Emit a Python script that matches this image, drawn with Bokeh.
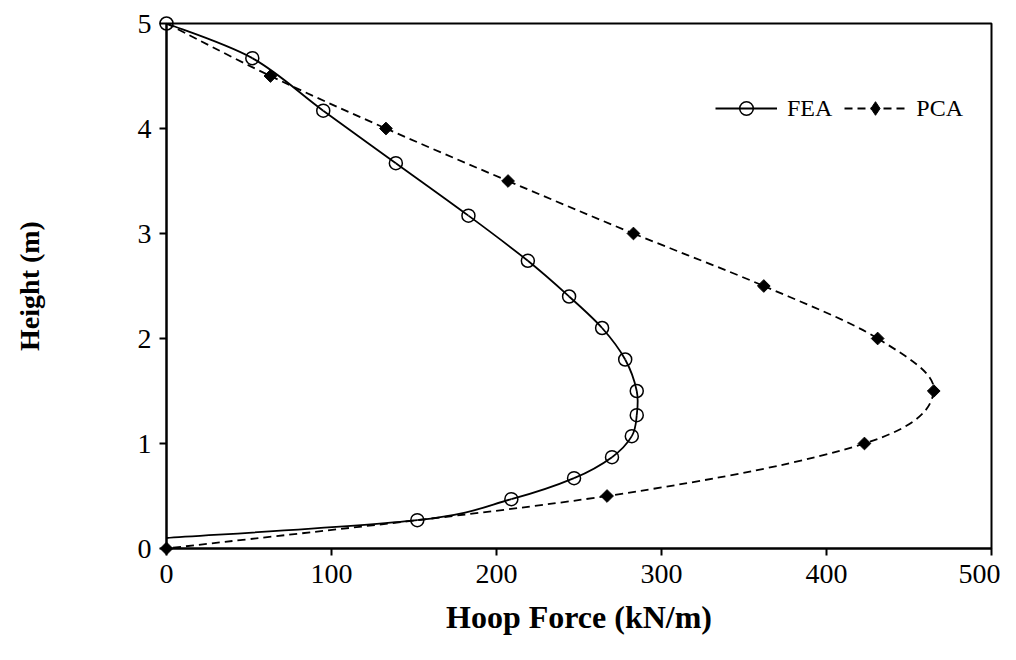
import numpy as np
from bokeh.plotting import figure
from bokeh.models import Range1d, Legend, LegendItem, ColumnDataSource, FixedTicker
from bokeh.embed import file_html
from bokeh.resources import INLINE

# ---- data ----
fea_force = [0, 52, 95, 139, 183, 219, 244, 264, 278, 285, 285, 282, 270, 247, 209, 152, 0]
fea_height = [5.0, 4.67, 4.17, 3.67, 3.17, 2.74, 2.40, 2.10, 1.80, 1.50, 1.27, 1.07,
              0.87, 0.67, 0.47, 0.27, 0.10]
pca_force = [0, 63, 133, 207, 283, 362, 431, 465, 423, 267, 0]
pca_height = [5.0, 4.5, 4.0, 3.5, 3.0, 2.5, 2.0, 1.5, 1.0, 0.5, 0.0]

x_ticks = [0, 100, 200, 300, 400, 500]
y_ticks = [0, 1, 2, 3, 4, 5]

FONT = "Liberation Serif"


def smooth_segments(xs, ys):
    """Cubic Bezier segments (Catmull-Rom style, like spreadsheet smoothing)."""
    x = np.asarray(xs, float)
    y = np.asarray(ys, float)
    n = len(x)
    xp = np.concatenate([[x[0]], x, [x[-1]]])
    yp = np.concatenate([[y[0]], y, [y[-1]]])
    d = dict(x0=[], y0=[], x1=[], y1=[], cx0=[], cy0=[], cx1=[], cy1=[])
    for i in range(n - 1):
        p0x, p0y = xp[i], yp[i]
        p1x, p1y = xp[i + 1], yp[i + 1]
        p2x, p2y = xp[i + 2], yp[i + 2]
        p3x, p3y = xp[i + 3], yp[i + 3]
        d["x0"].append(p1x); d["y0"].append(p1y)
        d["x1"].append(p2x); d["y1"].append(p2y)
        d["cx0"].append(p1x + (p2x - p0x) / 6.0)
        d["cy0"].append(p1y + (p2y - p0y) / 6.0)
        d["cx1"].append(p2x - (p3x - p1x) / 6.0)
        d["cy1"].append(p2y - (p3y - p1y) / 6.0)
    return ColumnDataSource(d)


p = figure(width=1000, height=644, output_backend="svg", toolbar_location=None,
           x_range=Range1d(0, 500), y_range=Range1d(0, 5),
           min_border_left=166, min_border_right=9, min_border_top=23,
           min_border_bottom=96)
p.background_fill_color = "white"
p.border_fill_color = "white"
p.outline_line_color = "black"
p.outline_line_width = 2
p.xgrid.visible = False
p.ygrid.visible = False

for ax in (p.xaxis[0], p.yaxis[0]):
    ax.axis_line_color = "black"
    ax.axis_line_width = 2
    ax.major_tick_line_color = "black"
    ax.major_tick_line_width = 2
    ax.major_tick_in = 0
    ax.major_tick_out = 7
    ax.minor_tick_line_color = None
    ax.major_label_text_font = FONT
    ax.major_label_text_font_size = "28px"
    ax.major_label_text_color = "black"
    ax.axis_label_text_font = FONT
    ax.axis_label_text_font_style = "bold"
    ax.axis_label_text_color = "black"

p.xaxis.axis_label_text_font_size = "32px"
p.yaxis.axis_label_text_font_size = "28px"
p.xaxis.ticker = FixedTicker(ticks=x_ticks)
p.yaxis.ticker = FixedTicker(ticks=y_ticks)
p.xaxis.axis_label = "Hoop Force (kN/m)"
p.yaxis.axis_label = "Height (m)"
p.xaxis.major_label_standoff = 9
p.xaxis.axis_label_standoff = 13
p.yaxis.major_label_standoff = 8
p.yaxis.axis_label_standoff = 90

LW = 1.8
DASH = "8 5"

# PCA (dashed)
p.bezier(x0="x0", y0="y0", x1="x1", y1="y1", cx0="cx0", cy0="cy0", cx1="cx1", cy1="cy1",
         source=smooth_segments(pca_force, pca_height), line_color="black",
         line_width=LW, line_dash=DASH)
p.scatter(pca_force[1:], pca_height[1:], marker="square", angle=np.pi / 4,
          size=9, fill_color="black", line_color="black", line_width=1, level="overlay")

# FEA (solid)
p.bezier(x0="x0", y0="y0", x1="x1", y1="y1", cx0="cx0", cy0="cy0", cx1="cx1", cy1="cy1",
         source=smooth_segments(fea_force, fea_height), line_color="black",
         line_width=LW)
p.scatter(fea_force[:-1], fea_height[:-1], marker="circle", size=13,
          fill_color=None, line_color="black", line_width=1.5, level="overlay")

# legend proxies (single NaN point, never visible in the plot)
nan = [np.nan]
fea_leg_line = p.line(x=nan, y=nan, line_color="black", line_width=LW)
fea_leg_pt = p.scatter(x=nan, y=nan, marker="circle", size=13, fill_color=None,
                       line_color="black", line_width=1.5)
pca_leg_line = p.line(x=nan, y=nan, line_color="black", line_width=LW, line_dash=DASH)
pca_leg_pt = p.scatter(x=nan, y=nan, marker="diamond", size=15, fill_color="black",
                       line_color="black", line_width=1)

legend = Legend(items=[LegendItem(label="FEA", renderers=[fea_leg_line, fea_leg_pt]),
                       LegendItem(label="PCA", renderers=[pca_leg_line, pca_leg_pt])],
                orientation="horizontal", location=(549, 423),
                glyph_width=62, glyph_height=34, label_standoff=10, spacing=12,
                padding=0, margin=0, border_line_color=None,
                background_fill_alpha=0, label_text_font=FONT,
                label_text_font_size="24px", label_text_color="black")
p.add_layout(legend, "center")

open("out.html", "w").write(file_html(p, INLINE))
